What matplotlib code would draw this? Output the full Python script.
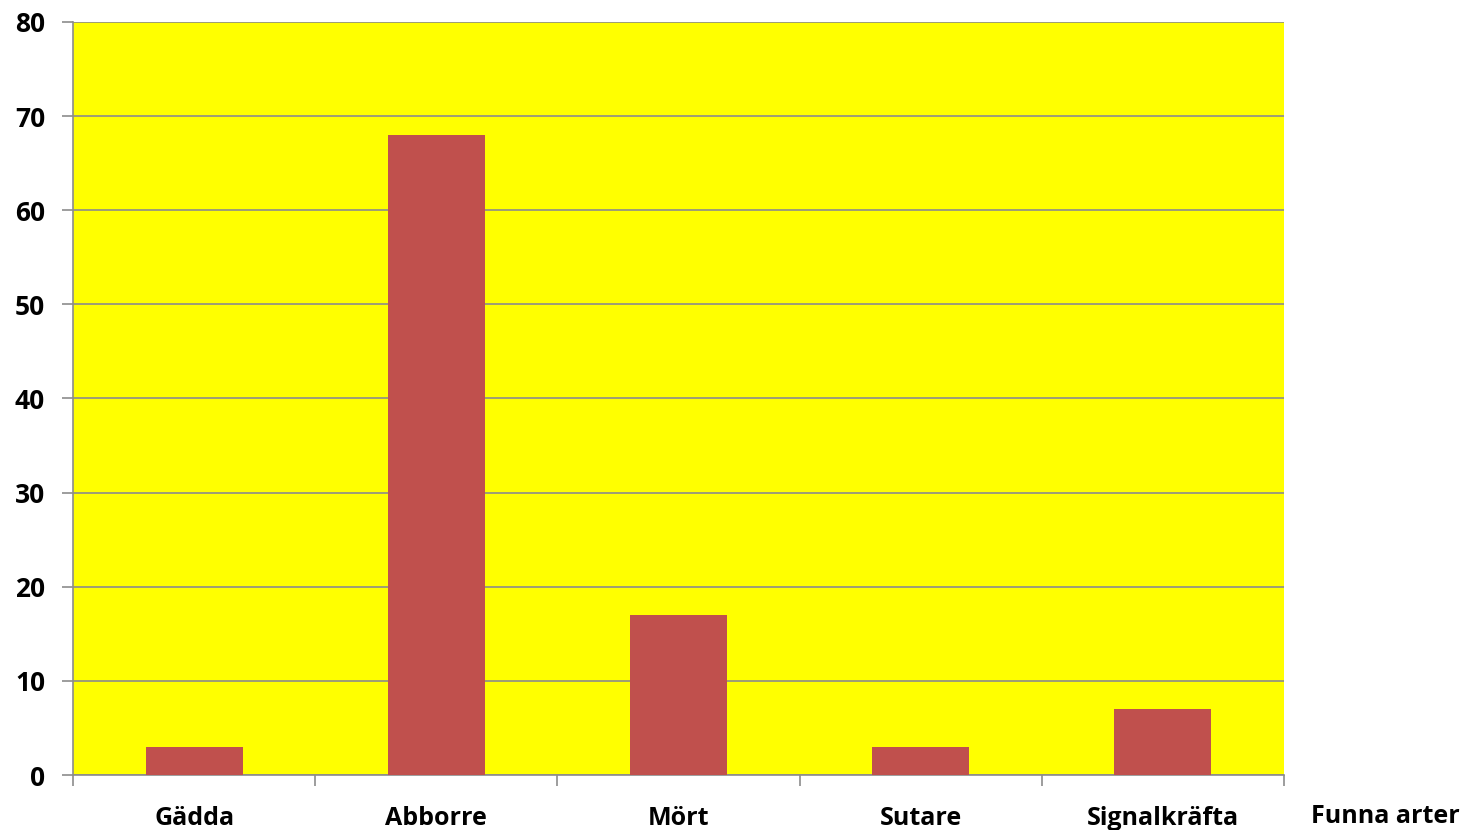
import matplotlib.pyplot as plt
import numpy as np

categories = ["Gädda", "Abborre", "Mört", "Sutare", "Signalkräfta"]
counts = [3, 68, 17, 3, 7]
y_ticks = [0, 10, 20, 30, 40, 50, 60, 70, 80]
axis_title = "Funna arter"

plt.rcParams["font.family"] = ["Open Sans", "DejaVu Sans"]
plt.rcParams["font.weight"] = "bold"

fig = plt.figure(figsize=(14.66, 8.30), dpi=100)
ax = fig.add_axes([73 / 1466, 1 - 775 / 830, (1284 - 73) / 1466, (775 - 22) / 830])
ax.set_facecolor("#FFFF00")

x = np.arange(len(categories))
ax.bar(x, counts, width=0.4, color="#C0504D", zorder=3)

ax.set_xlim(-0.5, len(categories) - 0.5)
ax.set_ylim(0, 80)
ax.set_yticks(y_ticks)
ax.set_yticklabels([str(v) for v in y_ticks], fontsize=19, fontweight="bold")
ax.grid(axis="y", color="#8C8C8C", linewidth=1.2, zorder=1)

ax.set_xticks(x)
ax.set_xticklabels(categories, fontsize=18, fontweight="bold")
ax.set_xticks(np.arange(len(categories) + 1) - 0.5, minor=True)
ax.tick_params(axis="x", which="major", length=0, pad=22)
ax.tick_params(axis="x", which="minor", length=8, color="#8C8C8C", width=1.2)
ax.tick_params(axis="y", length=8, color="#8C8C8C", width=1.2, pad=12)

for side in ["top", "right"]:
    ax.spines[side].set_visible(False)
for side in ["left", "bottom"]:
    ax.spines[side].set_color("#8C8C8C")
    ax.spines[side].set_linewidth(1.2)

fig.text(1385 / 1466, 1 - 816 / 830, axis_title, fontsize=18, fontweight="bold",
         ha="center", va="center")

fig.savefig("out.png", dpi=100)
